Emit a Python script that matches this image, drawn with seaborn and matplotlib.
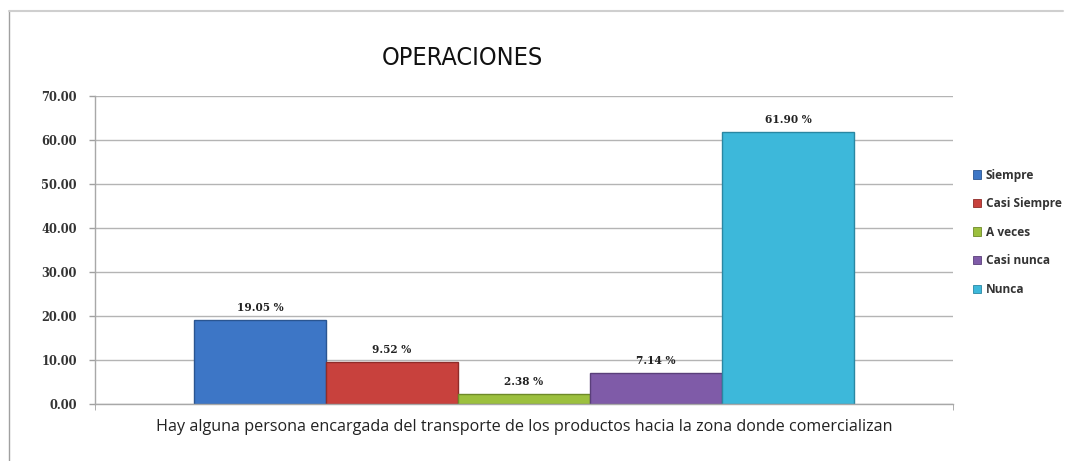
import matplotlib
matplotlib.use("Agg")
import matplotlib.pyplot as plt
import seaborn as sns
import pandas as pd
from matplotlib.lines import Line2D
from matplotlib import font_manager

question = "Hay alguna persona encargada del transporte de los productos hacia la zona donde comercializan"
series = ["Siempre", "Casi Siempre", "A veces", "Casi nunca", "Nunca"]
values = [19.05, 9.52, 2.38, 7.14, 61.90]
colors = ["#3D76C6", "#C8413D", "#9CC03E", "#7F5BA8", "#3DB8DA"]
edges = ["#2A5591", "#8F2C29", "#6E8A28", "#5A3F7A", "#2A87A2"]
yticks = [0, 10, 20, 30, 40, 50, 60, 70]

df = pd.DataFrame({"q": [question] * len(series), "serie": series, "valor": values})

sns.set_style("white")

# pick a narrow font for the title if available
font_names = {f.name for f in font_manager.fontManager.ttflist}
dejavu_cond = any(f.name == "DejaVu Sans" and f.stretch in ("condensed", 600) or "Condensed" in f.fname
                  for f in font_manager.fontManager.ttflist if f.name == "DejaVu Sans")
if "Liberation Sans Narrow" in font_names:
    title_kw = dict(family="Liberation Sans Narrow", fontsize=20.2)
elif dejavu_cond:
    title_kw = dict(family="DejaVu Sans", fontstretch="condensed", fontsize=18.1)
else:
    title_kw = dict(family="Roboto", fontsize=18.6)

fig = plt.figure(figsize=(10.65, 4.61), dpi=100)
ax = fig.add_axes([95/1065, 1-404/461, (953-95)/1065, (404-96)/461])

sns.barplot(data=df, x="q", y="valor", hue="serie", hue_order=series,
            palette=colors, width=0.769, gap=0, dodge=True, ax=ax,
            saturation=1, legend=False, errorbar=None)

for i, patch in enumerate(ax.patches[:len(series)]):
    patch.set_edgecolor(edges[i])
    patch.set_linewidth(1.0)

ax.set_xlim(-0.5, 0.5)
ax.set_ylim(0, 70)
ax.set_yticks(yticks)
ax.set_yticklabels([f"{v:.2f}" for v in yticks], family="DejaVu Serif",
                   fontsize=8.3, fontweight="bold", color="#333333")
ax.yaxis.grid(True, color="#b4b4b4", linewidth=1)
ax.set_axisbelow(True)
ax.tick_params(axis="y", length=4, color="#a0a0a0", width=1, pad=9, direction="out", left=True)
ax.tick_params(axis="x", length=0, pad=11)
ax.set_xticks([0])
ax.set_xticklabels([question], family="Open Sans", fontsize=11.65, color="#222222")
ax.set_xticks([-0.5, 0.5], minor=True)
ax.tick_params(axis="x", which="minor", length=4, color="#a0a0a0", direction="out", bottom=True)
ax.set_xlabel("")
ax.set_ylabel("")
for s in ["top", "right"]:
    ax.spines[s].set_visible(False)
for s in ["left", "bottom"]:
    ax.spines[s].set_color("#a8a8a8")
    ax.spines[s].set_linewidth(1)

for i, patch in enumerate(ax.patches[:len(series)]):
    x = patch.get_x() + patch.get_width() / 2
    h = patch.get_height()
    ax.annotate(f"{values[i]:.2f} %", (x, h), xytext=(0, 5), textcoords="offset points",
                ha="center", va="bottom", family="DejaVu Serif", fontsize=7.6,
                fontweight="bold", color="#222222")

handles = [plt.Rectangle((0, 0), 1, 1, facecolor=c, edgecolor=e, linewidth=0.6)
           for c, e in zip(colors, edges)]
leg = fig.legend(handles, series, loc="upper left", bbox_to_anchor=(962/1065, 1-158/461),
                 frameon=False, handlelength=0.7, handleheight=0.7, handletextpad=0.4,
                 labelspacing=1.3, prop={"family": "Open Sans", "size": 8.6, "weight": "bold"})
for t in leg.get_texts():
    t.set_color("#333333")

fig.text(462/1065, 1-58/461, "OPERACIONES", ha="center", va="center",
         color="#111111", **title_kw)

fig.add_artist(Line2D([9/1065, 9/1065], [0, 1-11/461], transform=fig.transFigure,
                      color="#a0a0a0", linewidth=1))
fig.add_artist(Line2D([9/1065, 1063/1065], [1-11/461, 1-11/461], transform=fig.transFigure,
                      color="#cfcfcf", linewidth=1.5))

fig.savefig("out.png", dpi=100)
